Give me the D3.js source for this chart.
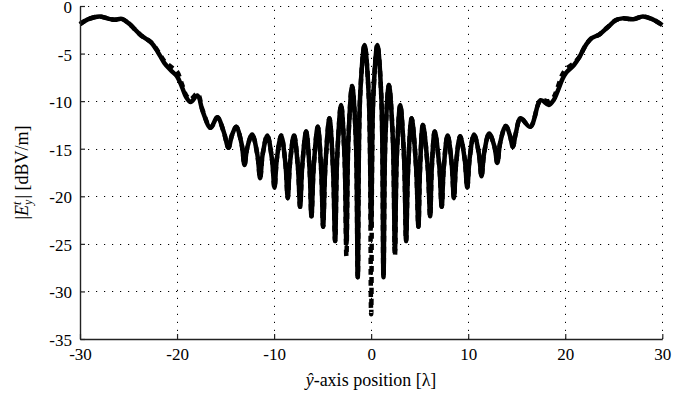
<!DOCTYPE html>
<html>
<head>
<meta charset="utf-8">
<script src="https://cdn.jsdelivr.net/npm/d3@7"></script>
<style>
  body { margin: 0; background: #fff; }
  text { font-family: "Liberation Serif", "Times New Roman", serif; fill: #000; }
</style>
</head>
<body>
<svg id="chart" width="695" height="397"></svg>
<script>
// Field magnitude along the ŷ axis (position in wavelengths, level in dBV/m)
const xPos = [
  -30.0, -29.2, -28.0, -27.0, -26.4, -25.7, -25.0, -24.4, -23.7, -22.7,
  -22.0, -21.3, -20.6, -20.0, -19.5, -19.05, -18.6, -17.9, -17.35, -16.55,
  -15.85, -15.2, -14.7, -14.35, -13.9, -13.35, -13.05, -12.77, -12.26, -11.73,
  -11.44, -11.18, -10.7, -10.22, -9.96, -9.72, -9.27, -8.83, -8.59, -8.37,
  -7.95, -7.54, -7.32, -7.10, -6.7, -6.34, -6.15, -5.92, -5.5, -5.14,
  -4.95, -4.72, -4.3, -3.92, -3.71, -3.50, -3.1, -2.74, -2.55, -2.34,
  -1.96, -1.58, -1.38, -1.14, -0.68, -0.24, 0.0, 0.22, 0.64, 1.05,
  1.27, 1.47, 1.83, 2.23, 2.45, 2.64, 3.0, 3.39, 3.6, 3.80,
  4.17, 4.63, 4.87, 5.03, 5.33, 5.82, 6.08, 6.24, 6.55, 7.02,
  7.27, 7.48, 7.88, 8.30, 8.53, 8.75, 9.17, 9.64, 9.9, 10.15,
  10.6, 11.10, 11.37, 11.65, 12.16, 12.71, 13.0, 13.30, 13.87, 14.3,
  14.6, 14.9, 15.4, 16.4, 17.47, 18.3, 18.8, 19.2, 19.7, 20.1,
  20.9, 21.5, 22.0, 22.7, 23.5, 24.4, 25.2, 25.9, 27.0, 28.0,
  29.0, 30.0
];

const solidDb = [
  -1.9, -1.4, -1.1, -1.35, -1.45, -1.35, -1.8, -2.4, -3.1, -3.8,
  -4.8, -6.0, -6.8, -7.4, -8.5, -9.6, -10.1, -9.4, -11.1, -12.8,
  -11.7, -13.2, -14.9, -13.6, -12.7, -14.5, -16.7, -14.9, -13.5, -15.6,
  -18.1, -15.6, -13.6, -16.1, -19.1, -16.1, -13.6, -16.6, -20.2, -16.6,
  -13.6, -17.0, -21.1, -16.8, -13.2, -17.2, -22.1, -16.9, -12.7, -17.4,
  -23.2, -16.9, -11.8, -17.3, -24.7, -15.9, -10.4, -15.9, -25.0, -13.9,
  -8.4, -13.9, -28.5, -9.6, -4.1, -9.6, -23.3, -9.6, -4.1, -9.6,
  -28.5, -13.8, -8.3, -13.8, -25.8, -15.9, -10.4, -15.9, -24.7, -17.3,
  -11.8, -16.9, -23.2, -17.3, -12.5, -16.8, -22.1, -17.2, -13.2, -16.8,
  -21.1, -17.0, -13.6, -16.6, -20.2, -16.6, -13.7, -16.1, -19.1, -16.0,
  -13.5, -15.5, -17.9, -15.4, -13.4, -14.8, -16.5, -14.35, -12.6, -13.6,
  -14.8, -13.4, -11.8, -12.7, -9.9, -10.4, -9.9, -9.0, -7.7, -7.0,
  -6.2, -5.3, -4.3, -3.4, -3.0, -2.2, -1.5, -1.3, -1.4, -1.1,
  -1.4, -2.0
];

const dashedDb = [
  -1.9, -1.4, -1.1, -1.35, -1.45, -1.35, -1.8, -2.4, -3.1, -3.8,
  -4.7, -5.8, -6.4, -6.9, -8.2, -9.4, -9.8, -9.2, -11.0, -12.8,
  -11.7, -13.2, -14.9, -13.6, -12.7, -14.5, -16.7, -14.9, -13.5, -15.6,
  -18.1, -15.6, -13.6, -16.1, -19.1, -16.1, -13.6, -16.6, -20.2, -16.6,
  -13.6, -17.0, -21.1, -16.8, -13.2, -17.2, -22.1, -16.9, -12.7, -17.4,
  -23.2, -16.9, -11.8, -17.3, -24.7, -15.9, -10.4, -15.9, -26.3, -13.9,
  -8.4, -13.9, -28.5, -9.6, -4.1, -9.6, -32.4, -9.6, -4.1, -9.6,
  -28.5, -13.8, -8.3, -13.8, -26.3, -15.9, -10.4, -15.9, -24.7, -17.3,
  -11.8, -16.9, -23.2, -17.3, -12.5, -16.8, -22.1, -17.2, -13.2, -16.8,
  -21.1, -17.0, -13.6, -16.6, -20.2, -16.6, -13.7, -16.1, -19.1, -16.0,
  -13.5, -15.5, -17.9, -15.4, -13.4, -14.8, -16.5, -14.35, -12.6, -13.6,
  -14.8, -13.4, -11.8, -12.7, -9.9, -10.0, -9.6, -8.6, -7.2, -6.6,
  -6.0, -5.3, -4.3, -3.4, -3.0, -2.2, -1.5, -1.3, -1.4, -1.1,
  -1.4, -2.0
];

const xTicks = [-30, -20, -10, 0, 10, 20, 30];
const yTicks = [0, -5, -10, -15, -20, -25, -30, -35];

const plotLeft = 80, plotRight = 662.3, plotTop = 6, plotBottom = 339;
const svg = d3.select("#chart");

const x = d3.scaleLinear().domain([-30, 30]).range([plotLeft, plotRight]);
const y = d3.scaleLinear().domain([-35, 0]).range([plotBottom, plotTop]);

// dotted grid
const grid = svg.append("g")
  .attr("stroke", "#000")
  .attr("stroke-width", 1)
  .attr("stroke-dasharray", "1.2,6.8");
grid.selectAll("line.v").data(xTicks.filter(t => t !== -30)).join("line")
  .attr("class", "v")
  .attr("x1", d => Math.round(x(d)) + 0.5).attr("x2", d => Math.round(x(d)) + 0.5)
  .attr("y1", plotBottom).attr("y2", plotTop);
grid.selectAll("line.h").data(yTicks.filter(t => t !== -35)).join("line")
  .attr("class", "h")
  .attr("y1", d => Math.round(y(d)) + 0.5).attr("y2", d => Math.round(y(d)) + 0.5)
  .attr("x1", plotLeft).attr("x2", plotRight);

// curves
const line = (vals) => d3.line()
  .x((d, i) => x(xPos[i]))
  .y(d => y(d))
  .curve(d3.curveCatmullRom.alpha(0.5))(vals);

svg.append("path")
  .attr("d", line(dashedDb))
  .attr("fill", "none")
  .attr("stroke", "#000")
  .attr("stroke-width", 4.5)
  .attr("stroke-dasharray", "6,5")
  .attr("stroke-linejoin", "round");

svg.append("path")
  .attr("d", line(solidDb))
  .attr("fill", "none")
  .attr("stroke", "#000")
  .attr("stroke-width", 4.5)
  .attr("stroke-linejoin", "round");

// axes with inward ticks
const fmt = d => String(d).replace("−", "-");
const xAxis = svg.append("g")
  .attr("transform", `translate(0,${plotBottom})`)
  .call(d3.axisBottom(x).tickValues(xTicks).tickSizeInner(-5).tickSizeOuter(0)
    .tickPadding(9).tickFormat(fmt));
const yAxis = svg.append("g")
  .attr("transform", `translate(${plotLeft},0)`)
  .call(d3.axisLeft(y).tickValues(yTicks).tickSizeInner(-5).tickSizeOuter(0)
    .tickPadding(8).tickFormat(fmt));

[xAxis, yAxis].forEach(g => {
  g.select(".domain").attr("stroke", "#222").attr("stroke-width", 1.4);
  g.selectAll(".tick line").attr("stroke", "#222").attr("stroke-width", 1.2);
  g.selectAll(".tick text")
    .attr("font-family", "Liberation Serif, serif")
    .attr("font-size", 17)
    .attr("fill", "#000");
});
yAxis.selectAll(".tick text").attr("dy", "0.38em");

// x-axis title
const xt = svg.append("text")
  .attr("x", 371).attr("y", 386)
  .attr("text-anchor", "middle")
  .attr("font-size", 18);
xt.append("tspan").attr("font-style", "italic").text("ŷ");
xt.append("tspan").text("-axis position [λ]");

// y-axis title
const yt = svg.append("text")
  .attr("transform", "translate(28,172.5) rotate(-90)")
  .attr("text-anchor", "middle")
  .attr("font-size", 18);
yt.append("tspan").text("|");
yt.append("tspan").attr("font-style", "italic").text("E");
yt.append("tspan").attr("font-style", "italic").attr("font-size", 12).attr("dy", -7).text("t");
yt.append("tspan").attr("font-style", "italic").attr("font-size", 12).attr("dx", -3.4).attr("dy", 11).text("y");
yt.append("tspan").attr("dy", -4).attr("dx", 1).text("| [dBV/m]");
</script>
</body>
</html>
